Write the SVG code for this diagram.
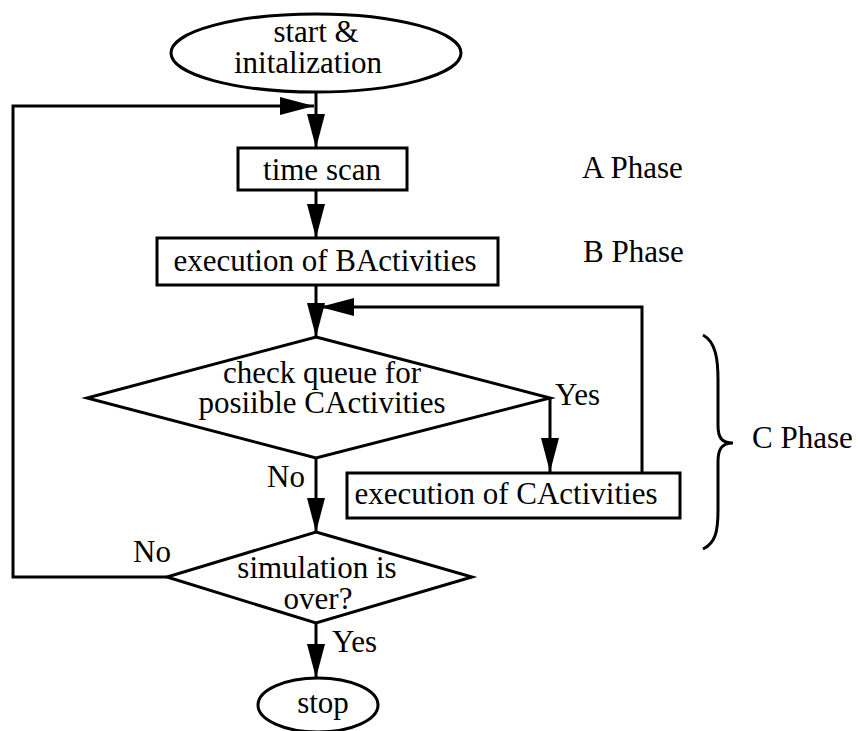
<svg xmlns="http://www.w3.org/2000/svg" width="858" height="731" viewBox="0 0 858 731">
<style>
.s{fill:#fff;stroke:#000;stroke-width:3}
.c{fill:none;stroke:#000;stroke-width:3}
text{font-family:"Liberation Serif","Times New Roman",serif;font-size:31px;fill:#000}
.m{text-anchor:middle}
</style>
<defs>
<marker id="ah" markerUnits="userSpaceOnUse" markerWidth="34" markerHeight="18" viewBox="0 0 34 18" refX="34" refY="9" orient="auto">
<path d="M0,0 L34,9 L0,18 z" fill="#000"/>
</marker>
</defs>
<rect width="858" height="731" fill="#fff"/>
<g id="connectors">
<path class="c" d="M316,92 L316,148" marker-end="url(#ah)"/>
<path class="c" d="M167,577 L13,577 L13,106 L314,106" marker-end="url(#ah)"/>
<path class="c" d="M316,190 L316,238" marker-end="url(#ah)"/>
<path class="c" d="M316,285 L316,337" marker-end="url(#ah)"/>
<path class="c" d="M642,472 L642,307 L320,307" marker-end="url(#ah)"/>
<path class="c" d="M550,397 L550,472" marker-end="url(#ah)"/>
<path class="c" d="M316,458 L316,532" marker-end="url(#ah)"/>
<path class="c" d="M316,623 L316,678" marker-end="url(#ah)"/>
</g>
<g id="start">
<ellipse class="s" cx="316" cy="53" rx="145" ry="39"/>
<text class="m" x="316" y="42">start &amp;</text>
<text class="m" x="308" y="73">initalization</text>
</g>
<g id="timescan">
<rect class="s" x="238" y="148" width="169" height="42"/>
<text class="m" x="322" y="180">time scan</text>
</g>
<g id="bact">
<rect class="s" x="157" y="238" width="341" height="47"/>
<text class="m" x="325" y="271">execution of BActivities</text>
</g>
<g id="check">
<polygon class="s" points="316,337 550,398 316,458 87,398"/>
<text class="m" x="322" y="383">check queue for</text>
<text class="m" x="322" y="413">posiible CActivities</text>
</g>
<g id="cact">
<rect class="s" x="347" y="473" width="333" height="45"/>
<text class="m" x="506" y="504">execution of CActivities</text>
</g>
<g id="over">
<polygon class="s" points="316,532 472,577 316,623 167,577"/>
<text class="m" x="317" y="578">simulation is</text>
<text class="m" x="318" y="609">over?</text>
</g>
<g id="stop">
<ellipse class="s" cx="318" cy="705" rx="60" ry="27"/>
<text class="m" x="323" y="713">stop</text>
</g>
<g id="labels">
<text x="555" y="405">Yes</text>
<text x="267" y="487">No</text>
<text x="133" y="562">No</text>
<text x="332" y="652">Yes</text>
<text x="582" y="178">A Phase</text>
<text x="583" y="262">B Phase</text>
<text x="752" y="448">C Phase</text>
</g>
<g id="brace">
<path class="c" d="M703,335 C716,342 718,360 718,380 L718,425 C718,437 721,443 733,443 M733,443 C721,443 718,450 718,462 L718,510 C718,530 716,543 703,549"/>
</g>
</svg>
